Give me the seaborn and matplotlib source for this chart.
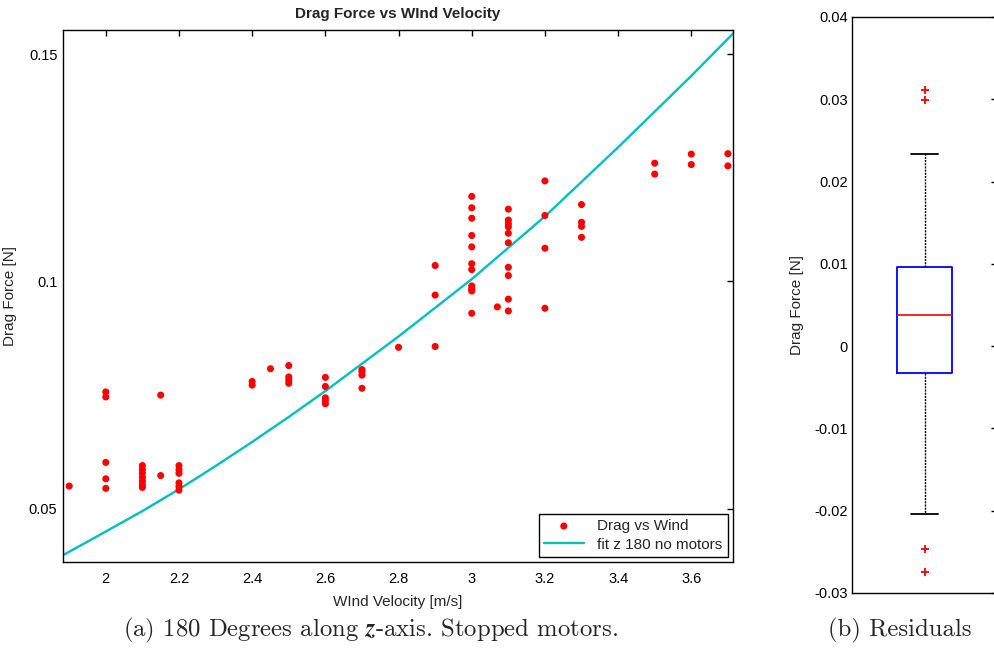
import seaborn as sns
import matplotlib.pyplot as plt
from matplotlib.ticker import FuncFormatter

# wind tunnel samples
wind_speed = [1.9,
              2.0, 2.0, 2.0, 2.0, 2.0,
              2.1, 2.1, 2.1, 2.1, 2.1, 2.1, 2.1,
              2.15, 2.15,
              2.2, 2.2, 2.2, 2.2, 2.2, 2.2,
              2.4, 2.4, 2.45,
              2.5, 2.5, 2.5, 2.5,
              2.6, 2.6, 2.6, 2.6, 2.6,
              2.7, 2.7, 2.7, 2.7,
              2.8,
              2.9, 2.9, 2.9,
              3.0, 3.0, 3.0, 3.0, 3.0, 3.0, 3.0, 3.0, 3.0, 3.0, 3.0,
              3.07,
              3.1, 3.1, 3.1, 3.1, 3.1, 3.1, 3.1, 3.1, 3.1, 3.1,
              3.2, 3.2, 3.2, 3.2,
              3.3, 3.3, 3.3, 3.3,
              3.5, 3.5, 3.6, 3.6, 3.7, 3.7]
drag_force = [0.0550,
              0.0757, 0.0746, 0.0602, 0.0566, 0.0545,
              0.0595, 0.0586, 0.0578, 0.0569, 0.0561, 0.0553, 0.0547,
              0.0750, 0.0573,
              0.0595, 0.0586, 0.0578, 0.0557, 0.0549, 0.0541,
              0.0780, 0.0772, 0.0808,
              0.0815, 0.0790, 0.0783, 0.0776,
              0.0789, 0.0769, 0.0744, 0.0738, 0.0731,
              0.0806, 0.0801, 0.0794, 0.0765,
              0.0855,
              0.1035, 0.0970, 0.0857,
              0.1187, 0.1162, 0.1139, 0.1101, 0.1076, 0.1039, 0.1026, 0.0990, 0.0984, 0.0979, 0.0930,
              0.0944,
              0.1159, 0.1135, 0.1127, 0.1120, 0.1106, 0.1085, 0.1031, 0.1013, 0.0961, 0.0935,
              0.1221, 0.1145, 0.1073, 0.0941,
              0.1169, 0.1130, 0.1121, 0.1097,
              0.1260, 0.1236, 0.1280, 0.1257, 0.1281, 0.1254]

# fitted curve, read at a few velocities
fit_speed = [1.883, 2.0, 2.1, 2.2, 2.3, 2.4, 2.5, 2.6, 2.8, 3.0, 3.2, 3.4, 3.6, 3.714]
fit_force = [0.0398, 0.0450, 0.0495, 0.0543, 0.0594, 0.0647, 0.0702, 0.0759,
             0.0879, 0.1005, 0.1143, 0.1295, 0.1452, 0.1545]

# residual box statistics
res_median = 0.0038
res_q1 = -0.0033
res_q3 = 0.0096
res_whislo = -0.0204
res_whishi = 0.0234
res_fliers = [0.0311, 0.0299, -0.0247, -0.0275]

x_ticks = [2, 2.2, 2.4, 2.6, 2.8, 3, 3.2, 3.4, 3.6]
y_ticks = [0.05, 0.1, 0.15]
res_ticks = [-0.03, -0.02, -0.01, 0, 0.01, 0.02, 0.03, 0.04]

CYAN = (0, 0.75, 0.75)
fmt = FuncFormatter(lambda v, p: "%g" % v)


def style_axes(ax):
    for s in ax.spines.values():
        s.set_color("black")
        s.set_linewidth(1.0)
    ax.tick_params(direction="in", top=True, right=True, length=4, width=1,
                   colors="black", labelsize=10.5)


def drag_panel(fig):
    ax = fig.add_axes([0.0633, 0.1354, 0.6734, 0.8185])
    sns.scatterplot(x=wind_speed, y=drag_force, color="red", s=26, edgecolor="none",
                    label="Drag vs Wind", ax=ax, zorder=3)
    sns.lineplot(x=fit_speed, y=fit_force, color=CYAN, linewidth=1.7,
                 label="fit z 180 no motors", ax=ax, zorder=2)
    ax.set_xlim(1.883, 3.714)
    ax.set_ylim(0.0383, 0.1553)
    ax.set_xticks(x_ticks)
    ax.set_yticks(y_ticks)
    ax.xaxis.set_major_formatter(fmt)
    ax.yaxis.set_major_formatter(fmt)
    style_axes(ax)
    ax.tick_params(axis="x", pad=7)
    ax.tick_params(axis="y", pad=4)
    ax.set_xlabel("WInd Velocity [m/s]", fontsize=11)
    ax.set_ylabel("Drag Force [N]", fontsize=11)
    ax.xaxis.set_label_coords(0.5, -0.062)
    ax.yaxis.set_label_coords(-0.069, 0.5)
    ax.set_title("Drag Force vs WInd Velocity", fontsize=11, fontweight="bold",
                 y=1.022, pad=0)
    leg = ax.legend(loc="lower right", bbox_to_anchor=(0.9925, 0.0094),
                    borderaxespad=0, fancybox=False, framealpha=1, fontsize=11,
                    handlelength=2.6, labelspacing=0.3, borderpad=0.35,
                    handletextpad=0.9)
    leg.get_frame().set_edgecolor("black")
    leg.get_frame().set_linewidth(1.0)


def residual_panel(fig):
    ax = fig.add_axes([0.8563, 0.0877, 0.1457, 0.8862])
    stats = [dict(med=res_median, q1=res_q1, q3=res_q3, whislo=res_whislo,
                  whishi=res_whishi, fliers=res_fliers)]
    ax.bxp(stats, positions=[1], widths=0.375, showfliers=True,
           boxprops=dict(color="blue", linewidth=1.3),
           medianprops=dict(color="red", linewidth=1.2),
           whiskerprops=dict(color="black", linewidth=1.0, linestyle=(0, (1.5, 0.8))),
           capprops=dict(color="black", linewidth=1.3),
           flierprops=dict(marker="+", markeredgecolor="red", markersize=6,
                           markeredgewidth=1.3))
    ax.set_xlim(0.5, 1.5)
    ax.set_ylim(-0.03, 0.04)
    ax.set_xticks([])
    ax.set_yticks(res_ticks)
    ax.yaxis.set_major_formatter(fmt)
    style_axes(ax)
    ax.tick_params(axis="y", pad=3)
    ax.set_ylabel("Drag Force [N]", fontsize=11)
    ax.yaxis.set_label_coords(-0.33, 0.5)


def main():
    sns.set_theme(style="white")
    plt.rcParams["font.family"] = ["Liberation Sans", "DejaVu Sans"]
    plt.rcParams["axes.unicode_minus"] = False
    plt.rcParams["mathtext.fontset"] = "cm"
    fig = plt.figure(figsize=(9.95, 6.5), dpi=100)
    drag_panel(fig)
    residual_panel(fig)
    fig.text(0.372, 0.030, r"(a) 180 Degrees along $\mathbfit{z}$-axis. Stopped motors.",
             family="cmr10", fontsize=17.8, ha="center", va="center")
    fig.text(0.9045, 0.030, "(b) Residuals", family="cmr10", fontsize=17.8,
             ha="center", va="center")
    fig.savefig("out.png", dpi=100)
    plt.close(fig)


if __name__ == '__main__':
    main()
